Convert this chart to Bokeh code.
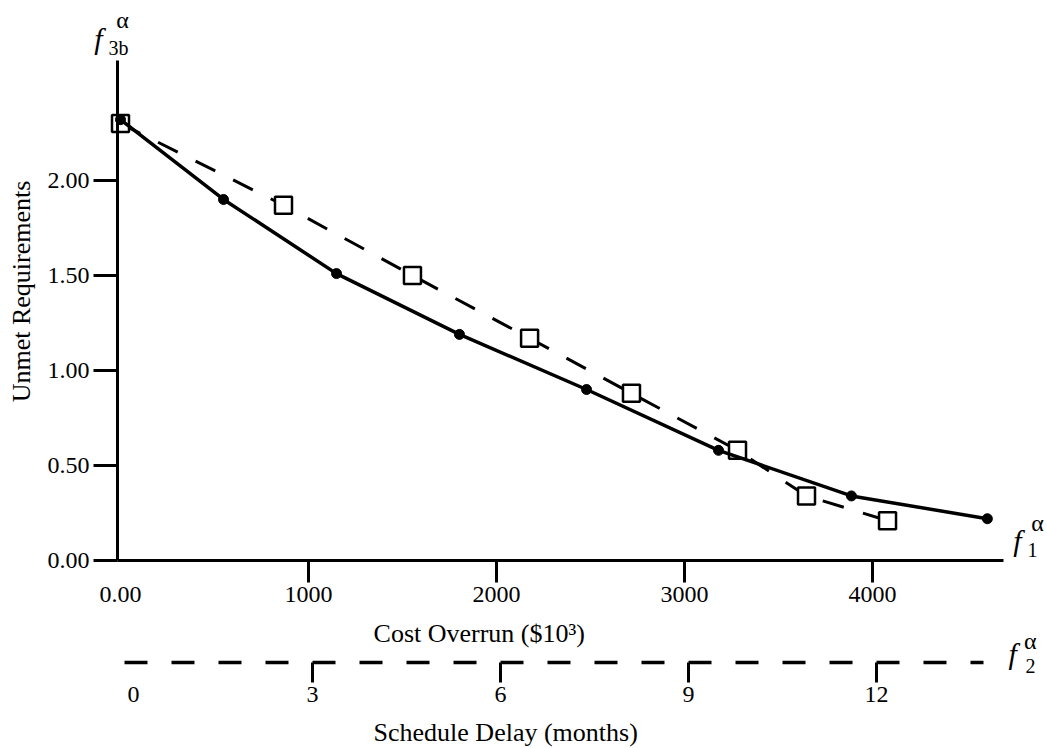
import math
from bokeh.plotting import figure
from bokeh.models import LinearAxis, Range1d, FixedTicker, Label, NumeralTickFormatter
from bokeh.embed import file_html
from bokeh.resources import INLINE

# ---- data ----
cost_solid = [0, 548, 1149, 1803, 2479, 3181, 3888, 4611]
unmet_solid = [2.32, 1.90, 1.51, 1.19, 0.90, 0.58, 0.34, 0.22]
cost_dashed = [0, 867, 1553, 2176, 2718, 3282, 3649, 4080]
unmet_dashed = [2.30, 1.87, 1.50, 1.17, 0.88, 0.58, 0.34, 0.21]

cost_ticks = [0, 1000, 2000, 3000, 4000]
cost_tick_labels = ["0.00", "1000", "2000", "3000", "4000"]
unmet_ticks = [0, 0.5, 1.0, 1.5, 2.0]
delay_ticks = [0, 3, 6, 9, 12]
delay_tick_labels = ["0", "3", "6", "9", "12"]

FONT = "Liberation Serif"
FS = "24px"
TFS = "26px"

p = figure(width=1047, height=748, output_backend="svg", toolbar_location=None,
           x_range=Range1d(-638.3, 4930.9), y_range=Range1d(-0.989, 2.947))
p.min_border = 0
p.grid.visible = False
p.outline_line_color = None
p.extra_x_ranges = {"months": Range1d(-1.979, 14.729)}

def style_axis(ax, tick_out, standoff):
    ax.axis_line_width = 3
    ax.axis_line_color = "black"
    ax.major_tick_line_width = 3
    ax.major_tick_line_color = "black"
    ax.major_tick_out = tick_out
    ax.major_tick_in = 0
    ax.minor_tick_line_color = None
    ax.major_label_text_font = FONT
    ax.major_label_text_font_size = FS
    ax.major_label_text_color = "black"
    ax.major_label_standoff = standoff

# cost axis (first tick label drawn without a tick mark, as in the reference)
xa = p.xaxis[0]
xa.ticker = FixedTicker(ticks=cost_ticks[1:])
xa.fixed_location = 0
xa.bounds = (-16, 4697)
style_axis(xa, 22, 4)

ya = p.yaxis[0]
ya.ticker = FixedTicker(ticks=unmet_ticks)
ya.formatter = NumeralTickFormatter(format="0.00")
ya.fixed_location = -16
ya.bounds = (0, 2.63)
style_axis(ya, 24, 4)

sa = LinearAxis(x_range_name="months", ticker=FixedTicker(ticks=delay_ticks[1:]),
                bounds=(0, 13.7), fixed_location=-0.537)
style_axis(sa, 20, 4)
sa.axis_line_dash = "23 24"
sa.axis_line_width = 3.5
p.add_layout(sa, "below")

# ---- series ----
p.line(cost_dashed, unmet_dashed, line_color="black", line_width=3, line_dash="22 20")
p.scatter(cost_dashed, unmet_dashed, marker="square", size=17, fill_color="white",
          line_color="black", line_width=2.5)
p.line(cost_solid, unmet_solid, line_color="black", line_width=3.5)
p.scatter(cost_solid, unmet_solid, marker="circle", size=10, fill_color="black",
          line_color="black")

# ---- texts ----
def lab(x, y, text, size, style="normal", align="center", baseline="middle",
        range_name="default", angle=0.0):
    p.add_layout(Label(x=x, y=y, text=text, text_font=FONT, text_font_size=size,
                       text_font_style=style, text_align=align, text_color="black",
                       text_baseline=baseline, x_range_name=range_name, angle=angle))

lab(cost_ticks[0], -0.137, cost_tick_labels[0], FS, baseline="top")
lab(0.144, -0.663, delay_tick_labels[0], FS, baseline="top", range_name="months")

lab(-527, 1.416, "Unmet Requirements", TFS, angle=math.pi / 2)
lab(1346, -0.384, "Cost Overrun ($10\u00b3)", TFS, align="left")
lab(1346, -0.905, "Schedule Delay (months)", TFS, align="left")

lab(-117, 2.747, "f", "30px", "italic")
lab(11, 2.842, "\u03b1", "24px")
lab(-11, 2.695, "3b", "20px")

lab(4771, 0.105, "f", "30px", "italic")
lab(4878, 0.195, "\u03b1", "24px")
lab(4851, 0.053, "1", "20px")

lab(4745, -0.489, "f", "30px", "italic")
lab(4840, -0.421, "\u03b1", "24px")
lab(4840, -0.553, "2", "20px")

open("out.html", "w").write(file_html(p, INLINE))
